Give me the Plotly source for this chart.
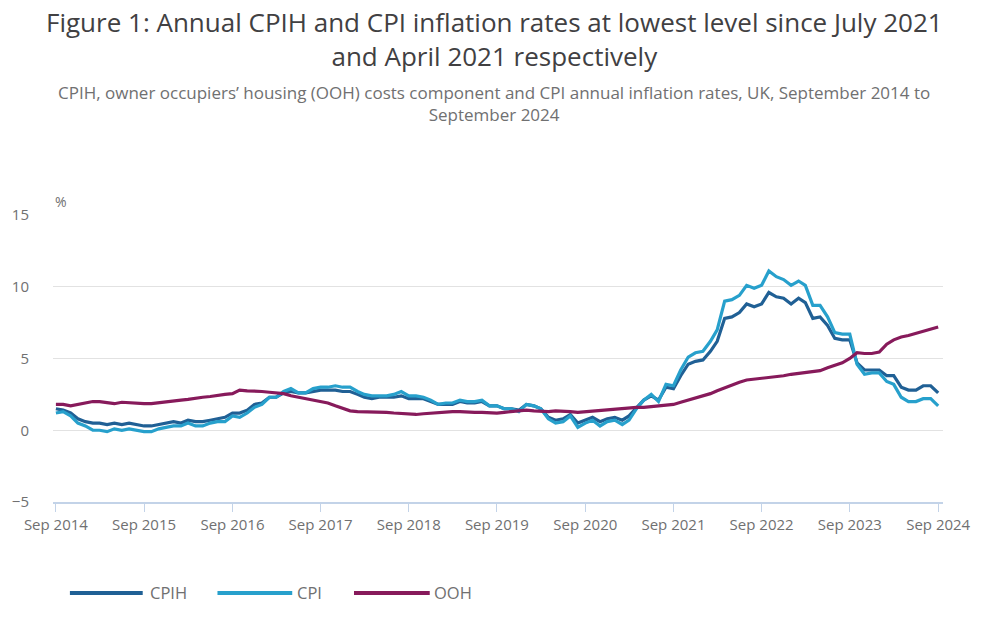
import plotly.graph_objects as go
import pandas as pd

# ---------------- data (monthly, Sep 2014 - Sep 2024) ----------------
months = pd.date_range("2014-09-01", "2024-09-01", freq="MS")

cpih = [
    1.5, 1.4, 1.2, 0.8,                                          # 2014 Sep-Dec
    0.6, 0.5, 0.5, 0.4, 0.5, 0.4, 0.5, 0.4, 0.3, 0.3, 0.4, 0.5,  # 2015
    0.6, 0.5, 0.7, 0.6, 0.6, 0.7, 0.8, 0.9, 1.2, 1.2, 1.4, 1.8,  # 2016
    1.9, 2.3, 2.3, 2.6, 2.7, 2.6, 2.6, 2.7, 2.8, 2.8, 2.8, 2.7,  # 2017
    2.7, 2.5, 2.3, 2.2, 2.3, 2.3, 2.3, 2.4, 2.2, 2.2, 2.2, 2.0,  # 2018
    1.8, 1.8, 1.8, 2.0, 1.9, 1.9, 2.0, 1.7, 1.7, 1.5, 1.5, 1.4,  # 2019
    1.8, 1.7, 1.5, 0.9, 0.7, 0.8, 1.1, 0.5, 0.7, 0.9, 0.6, 0.8,  # 2020
    0.9, 0.7, 1.0, 1.6, 2.1, 2.4, 2.1, 3.0, 2.9, 3.8, 4.6, 4.8,  # 2021
    4.9, 5.5, 6.2, 7.8, 7.9, 8.2, 8.8, 8.6, 8.8, 9.6, 9.3, 9.2,  # 2022
    8.8, 9.2, 8.9, 7.8, 7.9, 7.3, 6.4, 6.3, 6.3, 4.7, 4.2, 4.2,  # 2023
    4.2, 3.8, 3.8, 3.0, 2.8, 2.8, 3.1, 3.1, 2.6,                 # 2024 Jan-Sep
]

cpi = [
    1.2, 1.3, 1.0, 0.5,
    0.3, 0.0, 0.0, -0.1, 0.1, 0.0, 0.1, 0.0, -0.1, -0.1, 0.1, 0.2,
    0.3, 0.3, 0.5, 0.3, 0.3, 0.5, 0.6, 0.6, 1.0, 0.9, 1.2, 1.6,
    1.8, 2.3, 2.3, 2.7, 2.9, 2.6, 2.6, 2.9, 3.0, 3.0, 3.1, 3.0,
    3.0, 2.7, 2.5, 2.4, 2.4, 2.4, 2.5, 2.7, 2.4, 2.4, 2.3, 2.1,
    1.8, 1.9, 1.9, 2.1, 2.0, 2.0, 2.1, 1.7, 1.7, 1.5, 1.5, 1.3,
    1.8, 1.7, 1.5, 0.8, 0.5, 0.6, 1.0, 0.2, 0.5, 0.7, 0.3, 0.6,
    0.7, 0.4, 0.7, 1.5, 2.1, 2.5, 2.0, 3.2, 3.1, 4.2, 5.1, 5.4,
    5.5, 6.2, 7.0, 9.0, 9.1, 9.4, 10.1, 9.9, 10.1, 11.1, 10.7, 10.5,
    10.1, 10.4, 10.1, 8.7, 8.7, 7.9, 6.8, 6.7, 6.7, 4.6, 3.9, 4.0,
    4.0, 3.4, 3.2, 2.3, 2.0, 2.0, 2.2, 2.2, 1.7,
]

ooh = [
    1.8, 1.8, 1.7, 1.8,
    1.9, 2.0, 2.0, 1.9, 1.85, 1.95, 1.9, 1.9, 1.85, 1.85, 1.9, 1.95,
    2.0, 2.1, 2.15, 2.25, 2.3, 2.35, 2.45, 2.5, 2.55, 2.8, 2.75, 2.75,
    2.7, 2.65, 2.6, 2.55, 2.4, 2.3, 2.2, 2.15, 2.05, 1.9, 1.7, 1.5,
    1.35, 1.3, 1.3, 1.3, 1.25, 1.25, 1.2, 1.15, 1.1, 1.1, 1.15, 1.2,
    1.2, 1.25, 1.3, 1.3, 1.25, 1.25, 1.25, 1.2, 1.2, 1.25, 1.3, 1.35,
    1.4, 1.35, 1.3, 1.3, 1.35, 1.35, 1.3, 1.25, 1.3, 1.35, 1.4, 1.4,
    1.45, 1.5, 1.55, 1.6, 1.6, 1.65, 1.7, 1.75, 1.8, 1.95, 2.1, 2.25,
    2.4, 2.55, 2.75, 2.95, 3.2, 3.35, 3.5, 3.55, 3.6, 3.7, 3.75, 3.8,
    3.9, 3.95, 4.0, 4.1, 4.15, 4.35, 4.5, 4.7, 5.0, 5.4, 5.35, 5.35,
    5.45, 6.0, 6.3, 6.5, 6.6, 6.75, 6.9, 7.1, 7.2,
]

series_names = ["CPIH", "CPI", "OOH"]
series_values = [cpih, cpi, ooh]
series_colors = ["#206095", "#27a0cc", "#871a5b"]

tick_dates = pd.date_range("2014-09-01", "2024-09-01", freq="12MS")
tick_labels = [d.strftime("Sep %Y") for d in tick_dates]

title_text = ("Figure 1: Annual CPIH and CPI inflation rates at lowest level since July 2021"
              "<br>and April 2021 respectively")
subtitle_text = ("CPIH, owner occupiers’ housing (OOH) costs component and CPI annual inflation rates, "
                 "UK, September 2014 to<br>September 2024")

# ---------------- figure ----------------
FONT = "Open Sans"
GREY = "#707071"
AXIS_BLUE = "#c3d3e8"

fig = go.Figure()
for name, vals, col in zip(series_names, series_values, series_colors):
    fig.add_trace(go.Scatter(
        x=months, y=vals, name=name, mode="lines",
        line=dict(color=col, width=3.2), showlegend=False,
        hovertemplate="%{x|%b %Y}: %{y}%<extra>" + name + "</extra>",
    ))

fig.update_layout(
    width=986, height=620, autosize=False,
    margin=dict(l=50, r=43, t=215, b=118),
    paper_bgcolor="white", plot_bgcolor="white",
    font=dict(family=FONT, color=GREY, size=15),
)

fig.update_xaxes(
    type="date",
    range=["2014-08-20", "2024-09-21"],
    tickvals=tick_dates, ticktext=tick_labels,
    ticks="outside", ticklen=8, tickcolor=AXIS_BLUE, tickwidth=1,
    showline=True, linecolor=AXIS_BLUE, linewidth=2,
    showgrid=False, zeroline=False,
    tickfont=dict(size=15, color=GREY),
)
fig.update_yaxes(
    range=[-5, 15], tickvals=[-5, 0, 5, 10, 15],
    showgrid=True, gridcolor="#e2e2e2", gridwidth=1,
    zeroline=False, showline=False,
    ticks="outside", ticklen=20, tickcolor="rgba(0,0,0,0)",
    tickfont=dict(size=15, color=GREY),
)

annotations = [
    dict(text=title_text, xref="paper", yref="paper", x=0.496, y=1.0, xanchor="center",
         yanchor="bottom", yshift=139, showarrow=False, align="center",
         font=dict(size=26, color="#414042")),
    dict(text="%", xref="paper", yref="paper", x=0.0, y=1.0, xanchor="left", yanchor="bottom",
         yshift=2, showarrow=False, font=dict(size=14, color=GREY)),
    dict(text=subtitle_text, xref="paper", yref="paper", x=0.496, y=1.0, xanchor="center",
         yanchor="bottom", yshift=87, showarrow=False, align="center",
         font=dict(size=17, color=GREY)),
]

# custom legend with long line keys
shapes = []
legend_keys = [(0.019, 0.1008, 0.107), (0.1848, 0.2688, 0.2716), (0.3382, 0.4233, 0.4261)]
leg_y = -0.317
for (x0, x1, xt), name, col in zip(legend_keys, series_names, series_colors):
    shapes.append(dict(type="line", xref="paper", yref="paper", x0=x0, x1=x1, y0=leg_y, y1=leg_y,
                       line=dict(color=col, width=4)))
    annotations.append(dict(text=name, xref="paper", yref="paper", x=xt, y=leg_y,
                            xanchor="left", yanchor="middle", showarrow=False,
                            font=dict(size=16.5, color=GREY)))

fig.update_layout(annotations=annotations, shapes=shapes)

fig.write_html("out.html")
